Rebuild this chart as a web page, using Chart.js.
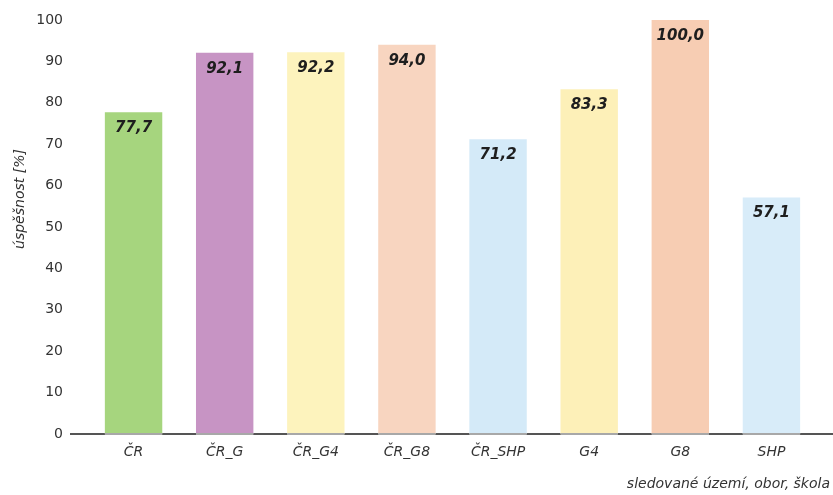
<!DOCTYPE html>
<html lang="cs">
<head>
<meta charset="utf-8">
<script src="https://cdn.jsdelivr.net/npm/chart.js@4/dist/chart.umd.min.js"></script>
<style>
  html, body { margin: 0; padding: 0; background: #fff; }
  #wrap { width: 833px; height: 495px; }
</style>
</head>
<body>
<div id="wrap"><canvas id="chart"></canvas></div>
<script>
// Data
const categories = ['ČR', 'ČR_G', 'ČR_G4', 'ČR_G8', 'ČR_SHP', 'G4', 'G8', 'SHP'];
const successValues = [77.7, 92.1, 92.2, 94.0, 71.2, 83.3, 100.0, 57.1];
const barColors = ['#a6d57e', '#c794c4', '#fdf3bd', '#f8d5c0', '#d4eaf8', '#fdf0b8', '#f7cdb3', '#d8ecf9'];
const yTicks = [0, 10, 20, 30, 40, 50, 60, 70, 80, 90, 100];
const yTitle = 'úspěšnost [%]';
const xTitle = 'sledované území, obor, škola';

const textColor = '#333';

// Baseline: dark between bars, lighter under bars
const baselinePlugin = {
    id: 'baseline',
    beforeDatasetsDraw(chart) {
        const { ctx } = chart;
        const y = chart.scales.y.getPixelForValue(0);
        ctx.save();
        ctx.strokeStyle = '#555';
        ctx.lineWidth = 2;
        ctx.beginPath();
        ctx.moveTo(70, y);
        ctx.lineTo(chart.width, y);
        ctx.stroke();
        ctx.restore();
    },
    afterDatasetsDraw(chart) {
        const { ctx } = chart;
        const y = chart.scales.y.getPixelForValue(0);
        ctx.save();
        ctx.strokeStyle = '#a8a8a8';
        ctx.lineWidth = 2;
        chart.getDatasetMeta(0).data.forEach(bar => {
            ctx.beginPath();
            ctx.moveTo(bar.x - bar.width / 2, y);
            ctx.lineTo(bar.x + bar.width / 2, y);
            ctx.stroke();
        });
        ctx.restore();
    }
};

// Values inside the top of each bar
const valueLabels = {
    id: 'valueLabels',
    afterDatasetsDraw(chart) {
        const { ctx } = chart;
        ctx.save();
        ctx.font = 'italic bold 15px "DejaVu Sans"';
        ctx.fillStyle = '#1e1e1e';
        ctx.textAlign = 'center';
        ctx.textBaseline = 'middle';
        chart.getDatasetMeta(0).data.forEach((bar, i) => {
            ctx.fillText(successValues[i].toFixed(1).replace('.', ','), bar.x, bar.y + 16);
        });
        ctx.restore();
    }
};

// Axis titles
const axisTitles = {
    id: 'axisTitles',
    afterDraw(chart) {
        const { ctx } = chart;
        ctx.save();
        ctx.fillStyle = textColor;
        ctx.font = 'italic 14px "DejaVu Sans"';
        ctx.textBaseline = 'middle';
        ctx.textAlign = 'right';
        ctx.fillText(xTitle, 830, 484);
        ctx.translate(20, 199);
        ctx.rotate(-Math.PI / 2);
        ctx.textAlign = 'center';
        ctx.fillText(yTitle, 0, 0);
        ctx.restore();
    }
};

new Chart(document.getElementById('chart'), {
    type: 'bar',
    data: {
        labels: categories,
        datasets: [{
            data: successValues,
            backgroundColor: barColors,
            borderWidth: 0,
            categoryPercentage: 1.0,
            barPercentage: 0.63
        }]
    },
    options: {
        responsive: true,
        maintainAspectRatio: false,
        animation: false,
        layout: { padding: { top: 20, right: 16, bottom: 0, left: 0 } },
        plugins: {
            legend: { display: false },
            tooltip: { enabled: false }
        },
        scales: {
            y: {
                min: 0,
                max: 100,
                afterFit: scale => {
                    scale.width = 88;
                    scale.paddingTop = 0;
                    scale.paddingBottom = 0;
                },
                afterBuildTicks: scale => { scale.ticks = yTicks.map(v => ({ value: v })); },
                grid: { display: false, drawTicks: false },
                border: { display: false },
                ticks: {
                    padding: 25,
                    color: textColor,
                    font: { family: 'DejaVu Sans', size: 14 }
                }
            },
            x: {
                afterFit: scale => { scale.height = 61; },
                grid: { display: false, drawTicks: false },
                border: { display: false },
                ticks: {
                    padding: 10,
                    color: textColor,
                    font: { family: 'DejaVu Sans', size: 14, style: 'italic' }
                }
            }
        }
    },
    plugins: [baselinePlugin, valueLabels, axisTitles]
});
</script>
</body>
</html>
